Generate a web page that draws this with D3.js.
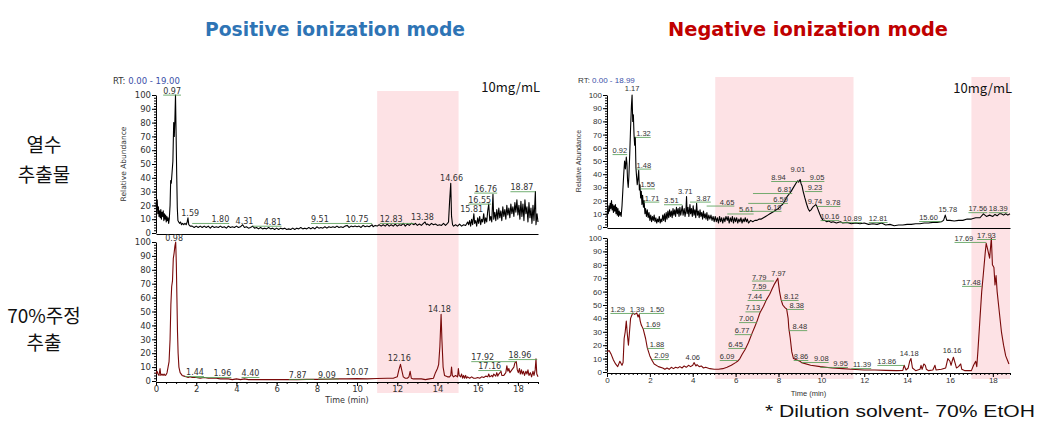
<!DOCTYPE html>
<html><head><meta charset="utf-8">
<script src="https://cdn.jsdelivr.net/npm/d3@7"></script>
<style>body{margin:0;background:#fff}svg{display:block}</style>
</head><body>
<script>
// ---------- DATA ----------
const titles = ["Positive ionization mode", "Negative ionization mode"];
const rowLabels = [["열수", "추출물"], ["70%주정", "추출"]];
const yTicks = [0,10,20,30,40,50,60,70,80,90,100];
const xTicks = [0,2,4,6,8,10,12,14,16,18];
const rtRanges = ["0.00 - 19.00", "0.00 - 18.99"];
const concentration = "10mg/mL";
const footnote = "* Dilution solvent- 70% EtOH";
const highlightPos = [[11.0, 15.05]];
const highlightNeg = [[5.05, 11.5], [17.0, 18.8]];

// [time (min), relative abundance]
const posWater = [[0,22],[0.03,17],[0.06,24],[0.09,14],[0.12,19],[0.15,12],[0.18,16],[0.21,11],[0.24,17],[0.27,10],[0.3,15],[0.33,12],[0.36,16],[0.39,9],[0.42,14],[0.45,10],[0.48,13],[0.51,8],[0.54,12],[0.57,9],[0.6,11],[0.63,7],[0.66,10],[0.7,20],[0.73,38],[0.76,36],[0.8,44],[0.84,52],[0.88,80],[0.91,70],[0.94,82],[0.97,100],[1.0,72],[1.03,42],[1.06,18],[1.09,9],[1.13,8],[1.17,7],[1.22,8],[1.27,6],[1.32,7],[1.38,6],[1.44,7],[1.5,6],[1.55,8],[1.59,11],[1.63,6],[1.7,5],[1.8,5],[1.9,4],[2.0,5],[2.1,4],[2.2,5],[2.3,4],[2.4,5],[2.5,4],[2.6,5],[2.7,3.5],[2.8,5],[2.9,4],[3.0,4.5],[3.1,4],[3.2,5],[3.3,4],[3.4,4.5],[3.5,3.5],[3.6,5],[3.7,4],[3.8,4.5],[3.9,4],[4.0,5],[4.1,4],[4.2,4.5],[4.31,6],[4.4,4],[4.5,4.5],[4.6,3.5],[4.7,4],[4.81,5],[4.9,3.5],[5.0,4],[5.1,3],[5.2,4],[5.3,3],[5.4,3.5],[5.5,3],[5.6,4],[5.7,3],[5.8,3.5],[5.9,2.5],[6.0,3.5],[6.1,2.5],[6.2,3.5],[6.3,3],[6.4,3.5],[6.5,2.5],[6.6,3],[6.7,2.5],[6.8,3.5],[6.9,2.5],[7.0,3.5],[7.1,3],[7.2,4],[7.3,3],[7.4,3.5],[7.5,3],[7.6,4],[7.7,3],[7.8,4],[7.9,3],[8.0,4.5],[8.1,3.5],[8.2,4],[8.3,3.5],[8.4,4.5],[8.5,3.5],[8.6,4.5],[8.7,4],[8.8,4.5],[8.9,4],[9.0,5],[9.1,4],[9.2,4.5],[9.3,4],[9.4,5],[9.51,5.5],[9.6,4],[9.7,5],[9.8,4.5],[9.9,5],[10.0,4.5],[10.1,5],[10.2,4],[10.3,5.5],[10.4,4.5],[10.5,5],[10.6,4.5],[10.75,6],[10.8,4.5],[10.9,5.5],[11.0,5],[11.1,6],[11.2,5],[11.3,6],[11.4,5],[11.5,6.5],[11.6,5],[11.7,6],[11.8,5],[11.9,6.5],[12.0,5],[12.1,6],[12.2,5.5],[12.3,7],[12.4,5],[12.5,6.5],[12.6,5.5],[12.7,7],[12.83,6],[12.9,7],[13.0,5.5],[13.1,6.5],[13.2,5.5],[13.3,7],[13.38,8],[13.45,6],[13.5,6.5],[13.6,5.5],[13.7,7],[13.8,6],[13.9,6.5],[14.0,5.5],[14.1,6],[14.2,5.5],[14.3,7],[14.4,5.5],[14.5,7],[14.55,8],[14.6,22],[14.66,36],[14.7,12],[14.75,6],[14.8,5],[14.9,6],[15.0,5],[15.1,6.5],[15.2,5],[15.3,6],[15.4,5.5],[15.5,8],[15.55,6],[15.6,9],[15.65,5],[15.7,10],[15.75,6],[15.81,14],[15.85,7],[15.9,9],[15.95,5],[16.0,11],[16.05,7],[16.1,12],[16.15,6],[16.2,10],[16.25,8],[16.3,14],[16.35,7],[16.4,11],[16.45,8],[16.5,16],[16.55,21],[16.6,9],[16.65,12],[16.7,8],[16.76,28],[16.8,10],[16.85,15],[16.9,9],[16.95,17],[17.0,10],[17.05,18],[17.1,11],[17.15,16],[17.2,9],[17.25,19],[17.3,12],[17.35,17],[17.4,10],[17.45,20],[17.5,13],[17.55,18],[17.6,11],[17.65,21],[17.7,14],[17.75,19],[17.8,12],[17.85,22],[17.9,15],[17.95,24],[18.0,13],[18.05,20],[18.1,10],[18.15,23],[18.2,12],[18.25,21],[18.3,9],[18.35,24],[18.4,14],[18.45,19],[18.5,8],[18.55,22],[18.6,11],[18.65,18],[18.7,7],[18.75,20],[18.8,9],[18.87,30],[18.9,6],[18.95,14],[19.0,8]];

const posEthanol = [[0,5],[0.05,7],[0.1,5],[0.15,4],[0.2,9],[0.24,4],[0.3,5],[0.35,4],[0.4,5],[0.45,4],[0.5,4.5],[0.55,6],[0.6,10],[0.65,14],[0.7,30],[0.74,55],[0.78,68],[0.82,72],[0.86,88],[0.9,92],[0.94,97],[0.98,100],[1.01,85],[1.04,60],[1.07,35],[1.1,20],[1.14,10],[1.2,6],[1.3,4],[1.4,3.5],[1.5,3],[1.6,2.5],[1.7,3],[1.8,2.5],[2.0,2.5],[2.2,2],[2.4,2.5],[2.6,2],[2.8,2],[3.0,2],[3.2,1.5],[3.4,1.5],[3.6,1.5],[3.8,1],[4.0,1.5],[4.2,1],[4.4,1.5],[4.6,1],[4.8,1],[5.0,1],[5.5,1],[6.0,1],[6.5,1],[7.0,1],[7.5,1.2],[8.0,1.2],[8.5,1.3],[9.0,1.5],[9.5,1.5],[10.0,1.7],[10.5,1.5],[11.0,1.8],[11.5,2],[11.8,2],[12.0,3],[12.08,8],[12.16,12],[12.22,8],[12.3,3],[12.4,2],[12.5,2],[12.58,3],[12.64,7],[12.7,2],[12.8,1.5],[13.0,1.5],[13.2,1.5],[13.4,1],[13.6,1.5],[13.8,2],[13.9,6],[14.0,9],[14.06,12],[14.12,25],[14.18,48],[14.22,30],[14.28,10],[14.35,4],[14.5,3],[14.6,3],[14.66,4],[14.7,10],[14.74,4],[14.8,3],[14.9,4],[15.0,3],[15.04,9],[15.08,4],[15.15,3],[15.2,5],[15.25,2],[15.3,4],[15.35,2],[15.4,4],[15.45,2],[15.5,3],[15.6,2],[15.7,3],[15.8,2],[15.9,2],[16.0,2.5],[16.1,2],[16.2,3],[16.3,2.5],[16.4,3.5],[16.5,3],[16.55,5],[16.6,3],[16.7,4],[16.75,3],[16.8,5],[16.9,3.5],[16.95,6],[17.0,3.5],[17.05,5],[17.16,7],[17.2,4],[17.3,4],[17.4,6],[17.45,11],[17.5,7],[17.55,9],[17.6,6],[17.7,8],[17.8,10],[17.85,13],[17.92,14],[17.97,8],[18.02,6],[18.08,9],[18.12,5],[18.18,8],[18.22,5],[18.28,7],[18.33,4],[18.4,7],[18.45,5],[18.5,8],[18.55,4],[18.62,6],[18.68,3],[18.75,7],[18.8,4],[18.86,8],[18.9,16],[18.94,5],[19.0,3]];

const negWater = [[0,8],[0.03,13],[0.06,10],[0.09,16],[0.12,12],[0.15,18],[0.18,14],[0.21,20],[0.24,13],[0.27,17],[0.3,11],[0.33,16],[0.36,12],[0.39,17],[0.42,10],[0.45,15],[0.48,9],[0.51,14],[0.54,8],[0.57,12],[0.6,9],[0.63,11],[0.66,8],[0.7,16],[0.74,28],[0.78,40],[0.82,50],[0.86,44],[0.9,53],[0.93,48],[0.96,35],[0.99,30],[1.02,38],[1.06,55],[1.1,75],[1.14,92],[1.17,100],[1.2,80],[1.23,85],[1.26,70],[1.29,62],[1.32,68],[1.35,45],[1.38,38],[1.41,32],[1.44,36],[1.48,43],[1.51,28],[1.54,32],[1.57,22],[1.6,27],[1.63,17],[1.66,24],[1.7,15],[1.73,20],[1.77,10],[1.8,14],[1.84,8],[1.88,13],[1.92,7],[1.96,11],[2.0,5],[2.04,9],[2.08,4],[2.12,8],[2.16,5],[2.2,9],[2.24,4],[2.28,7],[2.32,3],[2.36,6],[2.4,4],[2.44,8],[2.48,3],[2.52,6],[2.56,4],[2.6,9],[2.64,5],[2.68,10],[2.72,4],[2.76,11],[2.8,6],[2.84,12],[2.88,7],[2.92,13],[2.96,8],[3.0,12],[3.04,7],[3.08,14],[3.12,9],[3.16,13],[3.2,8],[3.24,15],[3.28,10],[3.32,14],[3.36,8],[3.4,15],[3.44,9],[3.48,13],[3.51,16],[3.55,9],[3.6,14],[3.64,8],[3.68,12],[3.71,23],[3.74,10],[3.78,15],[3.82,8],[3.87,17],[3.9,10],[3.94,14],[3.98,8],[4.02,16],[4.06,9],[4.1,13],[4.14,7],[4.18,18],[4.22,9],[4.26,12],[4.3,7],[4.34,13],[4.38,8],[4.42,11],[4.46,6],[4.5,12],[4.54,7],[4.58,10],[4.62,6],[4.66,11],[4.7,5],[4.75,9],[4.8,6],[4.85,9],[4.9,5],[4.95,8],[5.0,4],[5.05,8],[5.1,4],[5.15,7],[5.2,3],[5.25,8],[5.3,4],[5.35,7],[5.4,3],[5.45,7],[5.5,4],[5.55,8],[5.61,5],[5.65,8],[5.7,3],[5.75,7],[5.8,4],[5.85,8],[5.9,3],[5.95,7],[6.0,4],[6.05,7],[6.1,3],[6.15,6],[6.2,4],[6.25,7],[6.3,3],[6.35,6],[6.4,4],[6.45,7],[6.5,4],[6.55,6],[6.6,3],[6.7,5],[6.8,4],[6.9,5],[7.0,5],[7.1,6],[7.2,6],[7.3,7],[7.4,8],[7.5,9],[7.6,10],[7.7,11],[7.8,12],[7.9,13],[8.0,14],[8.1,16],[8.19,17],[8.3,20],[8.4,23],[8.5,25],[8.59,27],[8.7,30],[8.81,33],[8.9,35],[8.94,34],[9.01,36],[9.05,33],[9.1,31],[9.15,27],[9.23,22],[9.3,18],[9.38,14],[9.45,12],[9.52,13],[9.6,15],[9.67,16],[9.74,17],[9.78,16],[9.85,13],[9.92,10],[10.0,7],[10.08,5],[10.16,5],[10.25,4],[10.35,4.5],[10.45,3.5],[10.55,4],[10.7,3],[10.89,4],[11.0,3],[11.2,3.5],[11.4,2.5],[11.6,3],[11.8,2.5],[12.0,3],[12.2,2],[12.4,2.5],[12.6,2],[12.81,3],[13.0,1.5],[13.2,2],[13.4,1],[13.6,1.5],[13.8,1.5],[14.0,2],[14.2,2],[14.4,2.5],[14.6,2.5],[14.8,3],[15.0,3],[15.2,3.5],[15.4,3.5],[15.6,4],[15.7,5],[15.78,9],[15.85,5],[16.0,5],[16.2,4.5],[16.4,5],[16.6,5],[16.8,6],[17.0,6],[17.2,7],[17.4,7],[17.56,10],[17.7,8],[17.85,9],[18.0,8],[18.1,9.5],[18.2,8.5],[18.3,10],[18.39,10],[18.5,9],[18.6,10],[18.7,9],[18.8,10]];

const negEthanol = [[0,15],[0.1,16],[0.2,13],[0.3,9],[0.4,6],[0.5,4],[0.6,8],[0.7,5],[0.75,7],[0.8,25],[0.85,30],[0.9,38],[0.95,28],[1.0,20],[1.05,30],[1.1,40],[1.2,44],[1.29,43],[1.39,44],[1.45,41],[1.5,43],[1.55,38],[1.6,35],[1.69,32],[1.8,25],[1.88,18],[2.0,12],[2.09,9],[2.2,6],[2.4,4],[2.6,3],[2.7,2],[2.8,3],[2.9,2],[3.0,3.5],[3.1,2.5],[3.2,3.5],[3.3,3],[3.4,4],[3.5,3],[3.6,4.5],[3.7,3.5],[3.8,5],[3.9,4],[4.0,5],[4.06,7],[4.15,4.5],[4.2,5.5],[4.3,4],[4.4,4.5],[4.5,3],[4.6,3.5],[4.8,2.5],[5.0,2],[5.2,2],[5.4,2.5],[5.6,3.5],[5.8,5],[6.0,7],[6.09,8],[6.2,10],[6.3,13],[6.45,17],[6.6,22],[6.77,29],[6.9,34],[7.0,38],[7.13,44],[7.3,49],[7.44,54],[7.59,58],[7.7,62],[7.79,65],[7.9,68],[7.97,70],[8.0,66],[8.05,60],[8.12,54],[8.2,50],[8.3,48],[8.38,47],[8.45,40],[8.48,33],[8.55,25],[8.62,15],[8.7,10],[8.86,9],[9.0,8],[9.08,7],[9.5,5],[9.95,4],[10.5,3],[11.0,2.5],[11.39,2],[12.0,1.5],[12.5,1.5],[13.0,1.2],[13.5,1],[13.8,1.2],[13.86,5],[13.95,1.5],[14.05,3],[14.12,8],[14.18,10],[14.25,3],[14.4,1],[14.6,2],[14.65,5],[14.7,2],[14.78,6],[14.85,5],[14.9,2],[15.0,1],[15.2,1.5],[15.3,5],[15.35,1.5],[15.6,2],[15.8,3],[15.9,10],[16.0,8],[16.05,5],[16.1,8],[16.16,11],[16.25,6],[16.3,3],[16.4,4],[16.5,6],[16.55,2],[16.7,1],[17.0,1],[17.1,5],[17.2,8],[17.25,4],[17.3,15],[17.4,40],[17.48,60],[17.55,72],[17.65,90],[17.69,96],[17.75,92],[17.85,85],[17.93,100],[17.98,80],[18.05,78],[18.1,65],[18.15,72],[18.2,60],[18.3,45],[18.4,30],[18.5,20],[18.6,12],[18.7,8],[18.75,6]];

// peak labels: [label centre (min), label baseline (abundance), text = retention time]
const posWaterLabels = [[0.8,101,"0.97"],[1.7,12,"1.59"],[3.2,8,"1.80"],[4.4,6.5,"4.31"],[5.8,6,"4.81"],[8.15,8,"9.51"],[10.0,8,"10.75"],[11.7,8,"12.83"],[13.25,9.5,"13.38"],[14.7,38,"14.66"],[15.7,15,"15.81"],[16.1,22,"16.55"],[16.4,30,"16.76"],[18.2,31,"18.87"]];
const posEthanolLabels = [[0.9,100.5,"0.98"],[1.94,4.3,"1.44"],[3.3,3.6,"1.96"],[4.7,3.6,"4.40"],[7.05,2.2,"7.87"],[8.5,2.5,"9.09"],[10.0,4.3,"10.07"],[12.1,14.4,"12.16"],[14.1,49.6,"14.18"],[16.6,8.6,"17.16"],[16.25,15,"17.92"],[18.1,16.5,"18.96"]];
const negWaterLabels = [[0.6,56,"0.92"],[1.17,103,"1.17"],[1.7,69,"1.32"],[1.72,45,"1.48"],[1.9,30,"1.55"],[2.1,20,"1.71"],[3.0,18,"3.51"],[3.65,25,"3.71"],[4.5,20,"3.87"],[5.6,17,"4.65"],[6.5,11,"5.61"],[7.8,13,"6.19"],[8.1,19,"6.59"],[8.3,26.5,"6.81"],[8.0,35.6,"8.94"],[8.9,41.7,"9.01"],[9.8,35.6,"9.05"],[9.7,28,"9.23"],[9.7,17.4,"9.74"],[10.55,16.7,"9.78"],[10.4,6,"10.16"],[11.45,4.5,"10.89"],[12.65,4.5,"12.81"],[15.0,5.3,"15.60"],[15.9,11,"15.78"],[17.3,12,"17.56"],[18.25,12,"18.39"]];
const negEthanolLabels = [[0.5,44.8,"1.29"],[1.4,44.8,"1.39"],[2.33,44.8,"1.50"],[2.15,33.6,"1.69"],[2.33,18.7,"1.88"],[2.55,10.4,"2.09"],[4.0,9,"4.06"],[5.6,9.7,"6.09"],[6.0,18.7,"6.45"],[6.3,29,"6.77"],[6.5,38,"7.00"],[6.8,46,"7.13"],[6.9,54.5,"7.44"],[7.1,62,"7.59"],[7.1,69,"7.79"],[8.0,71.6,"7.97"],[8.6,54.5,"8.12"],[8.85,47.8,"8.38"],[9.0,32,"8.48"],[9.05,9.7,"8.86"],[10.0,8.2,"9.08"],[10.9,4.5,"9.95"],[11.9,3.7,"11.39"],[13.05,6,"13.86"],[14.1,12,"14.18"],[16.1,14,"16.16"],[17.0,65,"17.48"],[16.65,97.8,"17.69"],[17.7,100,"17.93"]];

// ---------- DRAW ----------
const svg = d3.select("body").append("svg").attr("width",1053).attr("height",430);

const xPos = d3.scaleLinear().domain([0,19]).range([156,538]);
const xNeg = d3.scaleLinear().domain([0,18.8]).range([607,1010]);
const yPosTop = d3.scaleLinear().domain([0,100]).range([233,95]);
const yPosBot = d3.scaleLinear().domain([0,100]).range([381,242]);
const yNegTop = d3.scaleLinear().domain([0,100]).range([227,95]);
const yNegBot = d3.scaleLinear().domain([0,100]).range([372,238]);

const PINK = "#fde2e5";
highlightPos.forEach(([a,b]) => svg.append("rect").attr("x",xPos(a)).attr("y",91).attr("width",xPos(b)-xPos(a)).attr("height",302).attr("fill",PINK));
highlightNeg.forEach(([a,b]) => svg.append("rect").attr("x",xNeg(a)).attr("y",77).attr("width",xNeg(b)-xNeg(a)).attr("height",302).attr("fill",PINK));

// titles
svg.append("text").attr("x",335).attr("y",36).attr("text-anchor","middle")
  .attr("font-family","'DejaVu Sans', sans-serif").attr("font-weight","bold").attr("font-size",20)
  .attr("fill","#2e74b5").attr("textLength",260).attr("lengthAdjust","spacingAndGlyphs").text(titles[0]);
svg.append("text").attr("x",808).attr("y",36).attr("text-anchor","middle")
  .attr("font-family","'DejaVu Sans', sans-serif").attr("font-weight","bold").attr("font-size",20)
  .attr("fill","#c00000").attr("textLength",280).attr("lengthAdjust","spacingAndGlyphs").text(titles[1]);

// row labels
const korFont = "'Noto Sans CJK KR', sans-serif";
[[152,182],[323,350]].forEach((ys,i) => {
  ys.forEach((yy,j) => svg.append("text").attr("x",44).attr("y",yy).attr("text-anchor","middle")
    .attr("font-family",korFont).attr("font-size",19).attr("fill","#111").text(rowLabels[i][j]));
});

svg.append("text").attr("x",765).attr("y",417).attr("font-family","'Liberation Sans', Arial, sans-serif")
  .attr("font-size",17).attr("fill","#111").attr("textLength",270).attr("lengthAdjust","spacingAndGlyphs").text(footnote);

function panel(x, y, data, color, labels, opt) {
  const g = svg.append("g");
  // y axis
  const ya = g.append("g").attr("transform",`translate(${x.range()[0]},0)`)
    .call(d3.axisLeft(y).tickValues(yTicks).tickSize(4).tickSizeOuter(0));
  ya.selectAll("text").attr("font-family",opt.tickFont).attr("font-size",opt.tickSize).attr("fill","#333").attr("x",-5);
  ya.select(".domain").attr("stroke","#000");
  g.append("g").attr("transform",`translate(${x.range()[0]},0)`)
    .call(d3.axisLeft(y).tickValues(d3.range(0,101,2)).tickSize(2).tickFormat("").tickSizeOuter(0))
    .select(".domain").remove();
  // x axis
  const xa = g.append("g").attr("transform",`translate(0,${y(0)+1})`);
  if (opt.bottom) {
    xa.call(d3.axisBottom(x).tickValues(xTicks).tickSize(4).tickSizeOuter(0));
    xa.selectAll("text").attr("font-family",opt.tickFont).attr("font-size",opt.tickSize).attr("fill","#333").attr("y",4);
    g.append("g").attr("transform",`translate(0,${y(0)+1})`)
      .call(d3.axisBottom(x).tickValues(d3.range(0,x.domain()[1]+0.001,opt.minorX)).tickSize(2).tickFormat("").tickSizeOuter(0))
      .select(".domain").remove();
    g.append("text").attr("x",(x.range()[0]+x.range()[1])/2).attr("y",y(0)+opt.timeDy).attr("text-anchor","middle")
      .attr("font-family",opt.tickFont).attr("font-size",opt.tickSize-0.5).attr("fill","#333").text("Time (min)");
  } else {
    xa.call(d3.axisBottom(x).tickValues([]).tickSizeOuter(0));
  }
  xa.select(".domain").attr("stroke","#000");
  // trace
  g.append("path").datum(data).attr("fill","none").attr("stroke",color).attr("stroke-width",1.1)
    .attr("stroke-linejoin","round")
    .attr("d", d3.line().x(d=>x(d[0])).y(d=>y(d[1])));
  // labels
  labels.forEach(([lx, ly, t]) => {
    const cx = x(lx), by = y(ly);
    const txt = g.append("text").attr("x",cx).attr("y",by).attr("text-anchor","middle")
      .attr("font-family",opt.labelFont).attr("font-size",opt.labelSize).attr("fill","#333").text(t);
    const w = txt.node().getComputedTextLength();
    const rx = x(+t);
    if (Math.abs(rx - cx) > 3) {
      const x1 = Math.min(cx - w/2, rx), x2 = Math.max(cx + w/2, rx);
      g.append("line").attr("x1",x1).attr("x2",x2).attr("y1",by+1.5).attr("y2",by+1.5)
        .attr("stroke","#4f9a4f").attr("stroke-width",0.8);
    }
  });
  if (opt.top) {
    g.append("text").attr("transform",`translate(${x.range()[0]-opt.ylabDx},${(y(0)+y(100))/2}) rotate(-90)`)
      .attr("text-anchor","middle").attr("font-family",opt.tickFont).attr("font-size",opt.tickSize-1).attr("fill","#333")
      .text("Relative Abundance");
    const rt = g.append("text").attr("x",opt.rtX).attr("y",opt.rtY).attr("font-family",opt.tickFont).attr("font-size",opt.tickSize);
    rt.append("tspan").attr("fill","#333").text("RT: ");
    rt.append("tspan").attr("fill","#3a4fa8").text(opt.rt);
    g.append("text").attr("x",x.range()[1]+2).attr("y",opt.concY).attr("text-anchor","end")
      .attr("font-family",korFont).attr("font-size",13).attr("fill","#111").text(concentration);
  }
}

const posOpt = {tickFont:"'DejaVu Sans', sans-serif", tickSize:8.5, labelFont:"'DejaVu Sans', sans-serif", labelSize:8, minorX:0.5, timeDy:22, ylabDx:30};
const negOpt = {tickFont:"'Liberation Sans', Arial, sans-serif", tickSize:8, labelFont:"'Liberation Sans', Arial, sans-serif", labelSize:7.5, minorX:0.2, timeDy:24, ylabDx:26};

panel(xPos, yPosTop, posWater, "#000", posWaterLabels, {...posOpt, top:true, rtX:113, rtY:84, rt:rtRanges[0], concY:92});
panel(xPos, yPosBot, posEthanol, "#7a0a0a", posEthanolLabels, {...posOpt, bottom:true});
panel(xNeg, yNegTop, negWater, "#000", negWaterLabels, {...negOpt, top:true, rtX:578, rtY:83, rt:rtRanges[1], concY:93});
panel(xNeg, yNegBot, negEthanol, "#7a0a0a", negEthanolLabels, {...negOpt, bottom:true});
</script>
</body></html>
